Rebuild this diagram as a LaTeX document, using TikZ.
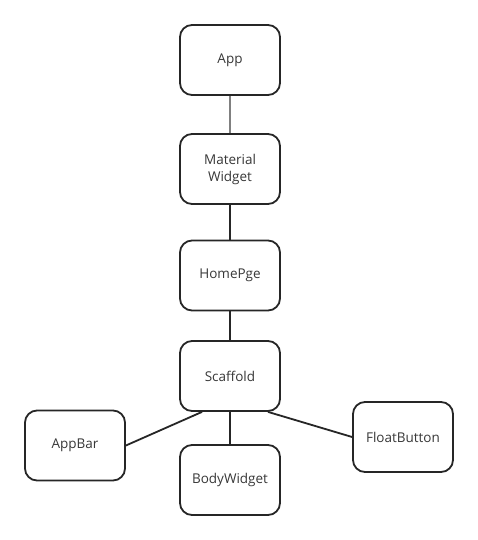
\documentclass[tikz,border=0pt]{standalone}
\usepackage{fontspec}
\setmainfont{Open Sans}
\begin{document}
\begin{tikzpicture}[x=1pt,y=-1pt,
  box/.style={draw=black!85, line width=1.8pt, rounded corners=12pt, minimum width=100pt, minimum height=70pt, align=center, font=\fontsize{13.5}{17}\selectfont, text=black!78, inner sep=0pt},
  link/.style={draw=black!85, line width=1.8pt},
  thin/.style={draw=black!50, line width=1.2pt}]
\useasboundingbox[fill=white] (0,0) rectangle (478,540);
\node[box] (app) at (230,60) {App};
\node[box] (mat) at (230,169) {Material\\Widget};
\node[box] (home) at (230,275.5) {HomePge};
\node[box] (sc) at (230,376) {Scaffold};
\node[box] (bar) at (75,445.5) {AppBar};
\node[box] (body) at (230,480) {BodyWidget};
\node[box] (fb) at (403,437) {FloatButton};
\draw[thin] (app) -- (mat);
\draw[link] (mat) -- (home);
\draw[link] (home) -- (sc);
\draw[link] (sc) -- (body);
\draw[link] ([xshift=-28pt]sc.south) -- (bar.east);
\draw[link] ([xshift=38pt]sc.south) -- (fb.west);
\end{tikzpicture}
\end{document}
